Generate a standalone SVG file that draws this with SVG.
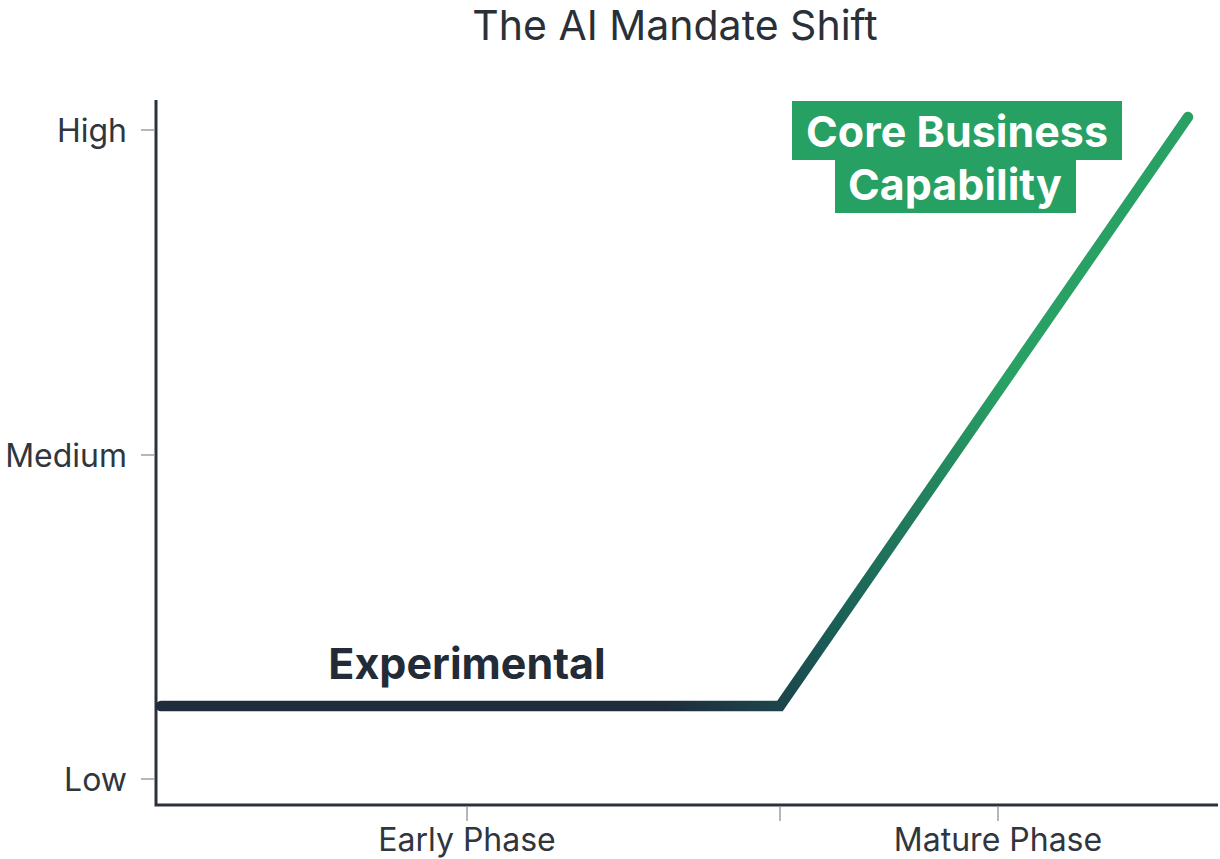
<svg xmlns="http://www.w3.org/2000/svg" width="1220" height="859" viewBox="0 0 1220 859">
<style>
.title{font-family:Inter,"Liberation Sans",sans-serif;font-size:41px;fill:#2a3038;}
.tick{font-family:Inter,"Liberation Sans",sans-serif;font-size:32px;fill:#30363d;}
.axis{stroke:#2b323a;stroke-width:3;fill:none;}
.tk{stroke:#9aa0a6;stroke-width:1.5;}
.lbl{font-family:Inter,"Liberation Sans",sans-serif;font-weight:700;font-size:43px;}
</style>
<defs>
<linearGradient id="g" gradientUnits="userSpaceOnUse" x1="660" y1="706" x2="1010" y2="390">
<stop offset="0" stop-color="#1f2c3a"/>
<stop offset="0.35" stop-color="#1a5a56"/>
<stop offset="1" stop-color="#29a064"/>
</linearGradient>
</defs>
<rect width="1220" height="859" fill="#ffffff"/>
<text class="title" x="675" y="40" text-anchor="middle">The AI Mandate Shift</text>
<g id="axes">
<path class="axis" d="M156,100 V805 H1218"/>
<line class="tk" x1="141" y1="130" x2="155" y2="130"/>
<line class="tk" x1="141" y1="455" x2="155" y2="455"/>
<line class="tk" x1="141" y1="779" x2="155" y2="779"/>
<line class="tk" x1="467" y1="807" x2="467" y2="821"/>
<line class="tk" x1="780" y1="807" x2="780" y2="821"/>
<line class="tk" x1="998" y1="807" x2="998" y2="821"/>
<text class="tick" x="127" y="142" text-anchor="end">High</text>
<text class="tick" x="127" y="467" text-anchor="end">Medium</text>
<text class="tick" x="127" y="791" text-anchor="end">Low</text>
<text class="tick" x="467" y="851" text-anchor="middle">Early Phase</text>
<text class="tick" x="998" y="851" text-anchor="middle">Mature Phase</text>
</g>
<g id="connectors">
<path d="M161,706 H780 L1188,117" fill="none" stroke="url(#g)" stroke-width="10.5" stroke-linejoin="miter" stroke-linecap="round"/>
</g>
<g id="experimental">
<text class="lbl" x="467" y="679" text-anchor="middle" fill="#222b36">Experimental</text>
</g>
<g id="core-business">
<rect x="792" y="101" width="330" height="59" fill="#27a063"/>
<rect x="835" y="158" width="241" height="55" fill="#27a063"/>
<text class="lbl" x="957" y="147" text-anchor="middle" fill="#ffffff">Core Business</text>
<text class="lbl" x="955" y="200" text-anchor="middle" fill="#ffffff">Capability</text>
</g>
</svg>
